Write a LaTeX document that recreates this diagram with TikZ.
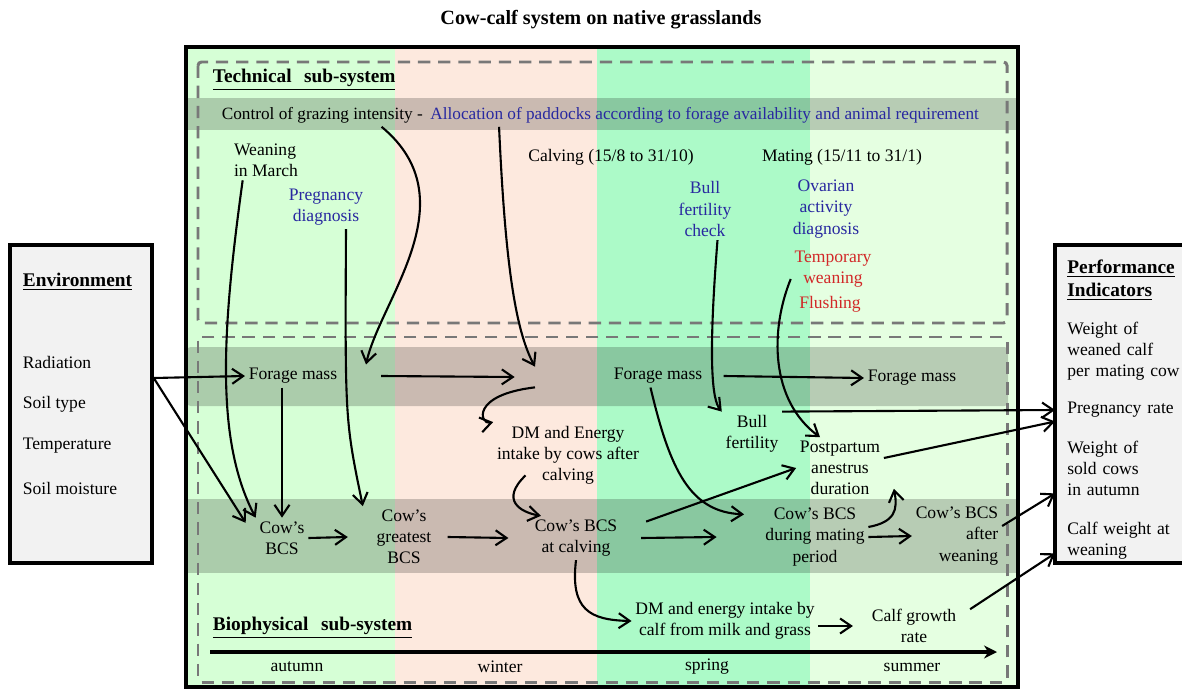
\documentclass[tikz,border=0pt]{standalone}
\usepackage{fontspec}
\setmainfont{Liberation Serif}
\usetikzlibrary{arrows.meta,positioning}

\definecolor{autumnbg}{RGB}{214,255,214}
\definecolor{winterbg}{RGB}{253,233,222}
\definecolor{springbg}{RGB}{172,250,200}
\definecolor{summerbg}{RGB}{229,255,225}
\definecolor{sidegray}{RGB}{242,242,242}
\definecolor{dashgray}{RGB}{120,120,120}
\definecolor{techblue}{RGB}{40,40,160}
\definecolor{alertred}{RGB}{210,40,40}

\begin{document}
\begin{tikzpicture}[x=0.02cm, y=-0.02cm, >={Straight Barb[length=2.2mm,width=3mm]}]
\tikzstyle{every node} = [font=\fontsize{10}{12}\selectfont, align=center, inner sep=2pt]
\tikzstyle{heading} = [font=\fontsize{11}{13}\selectfont\bfseries]
\tikzstyle{tech} = [text=techblue]
\tikzstyle{alert} = [text=alertred]
\tikzstyle{band} = [fill=black, opacity=0.2]
\tikzstyle{dashbox} = [draw=dashgray, line width=1.7pt, dash pattern=on 7pt off 4.5pt, rounded corners=2pt]
\tikzstyle{sidebox} = [draw, line width=2pt, fill=sidegray, minimum width=2.84cm, minimum height=6.36cm]
\tikzstyle{item} = [anchor=west, inner xsep=0.24cm, text width=2.3cm, align=left]
\tikzstyle{link} = [->, line width=1.2pt]
\useasboundingbox (0, 0) rectangle (1182, 689);

% seasons and bands
\fill[autumnbg] (187, 47) rectangle (395, 687);
\fill[winterbg] (395, 47) rectangle (597, 687);
\fill[springbg] (597, 47) rectangle (810, 687);
\fill[summerbg] (810, 47) rectangle (1018, 687);
\fill[band] (187, 98) rectangle (1018, 130);
\fill[band, rounded corners=2pt] (187, 347) rectangle (1008, 406);
\fill[band] (187, 499) rectangle (1018, 573);
\draw[dashbox] (198, 62) rectangle (1007, 323);
\draw[dashbox] (198, 337) rectangle (1007, 682);
\draw[line width=2.3pt] (186, 47) rectangle (1018, 687);

\node[font=\fontsize{11.5}{14}\selectfont\bfseries] (title) at (601, 20) {Cow-calf system on native grasslands};

% environment
\node[sidebox] (env) at (81, 404) {};
\node[heading, anchor=west] (envh) at (19, 282) {\underline{Environment}};
\node[anchor=west] (rad) at (19, 362) {Radiation};
\node[anchor=west] (soil) at (19, 404) {Soil type};
\node[anchor=west] (temp) at (19, 446) {Temperature};
\node[anchor=west] (moist) at (19, 488) {Soil moisture};

% performance indicators
\node[sidebox, minimum width=2.64cm] (perf) at (1121, 404) {};
\node[item, heading] (perfh) at (1055, 280) {\underline{Performance}\\\underline{Indicators}};
\node[item] (wwc) at (1055, 351) {Weight of\\weaned calf\\per mating cow};
\node[item] (pr) at (1055, 410) {Pregnancy rate};
\node[item] (sold) at (1055, 468) {Weight of\\sold cows\\in autumn};
\node[item] (cw) at (1055, 541) {Calf weight at\\weaning};

% technical sub-system
\node[heading, anchor=west] (techh) at (209, 80) {\underline{Technical\hspace{0.4em} sub-system}};
\node[anchor=west, font=\fontsize{9.8}{12}\selectfont] (ctrlA) at (218, 115) {Control of grazing intensity -};
\node[tech, font=\fontsize{9.8}{12}\selectfont, base right=0pt of ctrlA] (ctrlB) {Allocation of paddocks according to forage availability and animal requirement};
\node[align=left] (wean) at (266, 160) {Weaning\\in March};
\node[tech] (preg) at (326, 207) {Pregnancy\\diagnosis};
\node (calv) at (611, 157) {Calving (15/8 to 31/10)};
\node (mate) at (842, 157) {Mating (15/11 to 31/1)};
\node[tech] (bullchk) at (705, 209) {Bull\\fertility\\check};
\node[tech] (ovar) at (826, 209) {Ovarian\\activity\\diagnosis};
\node[alert] (tempw) at (833, 269) {Temporary\\weaning};
\node[alert] (flush) at (830, 304) {Flushing};

% biophysical sub-system
\node (fm1) at (293, 376) {Forage mass};
\node[minimum width=0.8cm, minimum height=0.4cm] (hub) at (535, 377) {};
\node (fm2) at (658, 376) {Forage mass};
\node (fm3) at (912, 378) {Forage mass};
\node (dmcow) at (568, 455) {DM and Energy\\intake by cows after\\calving};
\node (bull) at (752, 434) {Bull\\fertility};
\node (ppa) at (840, 468) {Postpartum\\anestrus\\duration};
\node (bcs1) at (282, 538) {Cow's\\BCS};
\node (bcsg) at (404, 537) {Cow's\\greatest\\BCS};
\node (bcsc) at (576, 538) {Cow's BCS\\at calving};
\node (bcsm) at (815, 537) {Cow's BCS\\during mating\\period};
\node[align=right] (bcsw) at (957, 536) {Cow's BCS\\after\\weaning};
\node (dmcalf) at (725, 621) {DM and energy intake by\\calf from milk and grass};
\node (cgr) at (914, 626) {Calf growth\\rate};
\node[heading, anchor=west] (bioh) at (209, 628) {\underline{Biophysical\hspace{0.4em} sub-system}};

% season axis
\coordinate (axL) at (210, 652);
\coordinate (axR) at (997, 652);
\draw[-{Stealth[length=2.6mm,width=2.6mm]}, line width=2pt] (axL) -- (axR);
\foreach \s/\x in {autumn/297, winter/500, spring/707, summer/912}
  \node (\s) at (\x, 667) {\s};

% environment links
\draw[link] ([yshift=0.52cm]env.east) -- (fm1.west);
\draw[link] ([yshift=0.52cm]env.east) -- ([xshift=-0.2cm]bcs1.150);
% management links
\draw[link] ([xshift=0.25cm]wean.south west) .. controls (222, 330) and (215, 440) .. (bcs1.north west);
\draw[link] ([xshift=0.4cm]preg.south) .. controls (345, 420) .. ([xshift=-0.2cm]bcsg.north west);
\draw[link] ([xshift=-0.9cm]ctrlA.south east) .. controls (470, 200) and (380, 300) .. ([xshift=0.5cm]fm1.north east);
\draw[link] ([xshift=1.45cm]ctrlB.south west) .. controls (505, 260) and (515, 330) .. (hub.north);
\draw[link] ([xshift=0.25cm]bullchk.south) .. controls (708, 360) and (712, 400) .. (bull.north west);
\draw[link] ([yshift=-0.2cm]tempw.west) .. controls (770, 330) and (770, 400) .. ([xshift=-0.4cm]ppa.north);
% biophysical links
\draw[link] (fm1.south -| bcs1.north) -- (bcs1.north);
\draw[link] ([xshift=0.8cm]fm1.east) -- (hub.west);
\draw[link] (hub.south) .. controls (470, 395) and (480, 425) .. (dmcow.north west);
\draw[link] ([xshift=-0.85cm, yshift=0.25cm]dmcow.south) .. controls (500, 500) and (520, 512) .. ([xshift=0.2cm]bcsc.north west);
\draw[link] (bcsc.south) .. controls (570, 610) and (590, 620) .. (dmcalf.west);
\draw[link] ([xshift=-0.15cm]fm2.south) .. controls (670, 470) and (690, 512) .. ([xshift=-0.35cm, yshift=-0.2cm]bcsm.north west);
\draw[link] ([yshift=0.2cm]bcsm.east) .. controls (895, 522) and (898, 510) .. ([xshift=0.2cm, yshift=0.2cm]ppa.south east);
\draw[link] (bcs1.east) -- ([xshift=-0.5cm]bcsg.west);
\draw[link] ([xshift=0.25cm]bcsg.east) -- ([xshift=-0.45cm]bcsc.west);
\draw[link] ([xshift=0.4cm]bcsc.east) -- ([xshift=-0.9cm]bcsm.west);
\draw[link] ([xshift=0.5cm]bcsc.20) -- (ppa.west);
\draw[link] ([xshift=0.35cm]fm2.east) -- (fm3.west);
\draw[link] (dmcalf.east |- cgr.west) -- ([xshift=-0.3cm]cgr.west);
\foreach \from/\to in {bcsm.east/bcsw.west, bull.north east/pr.west}
  \draw[link] (\from) -- (\to);
% to performance indicators
\draw[link] ([yshift=0.2cm]ppa.east) -- (pr.south west);
\draw[link] ([yshift=0.2cm]bcsw.east) -- (sold.200);
\draw[link] ([xshift=0.2cm]cgr.20) -- (cw.190);
\end{tikzpicture}
\end{document}
